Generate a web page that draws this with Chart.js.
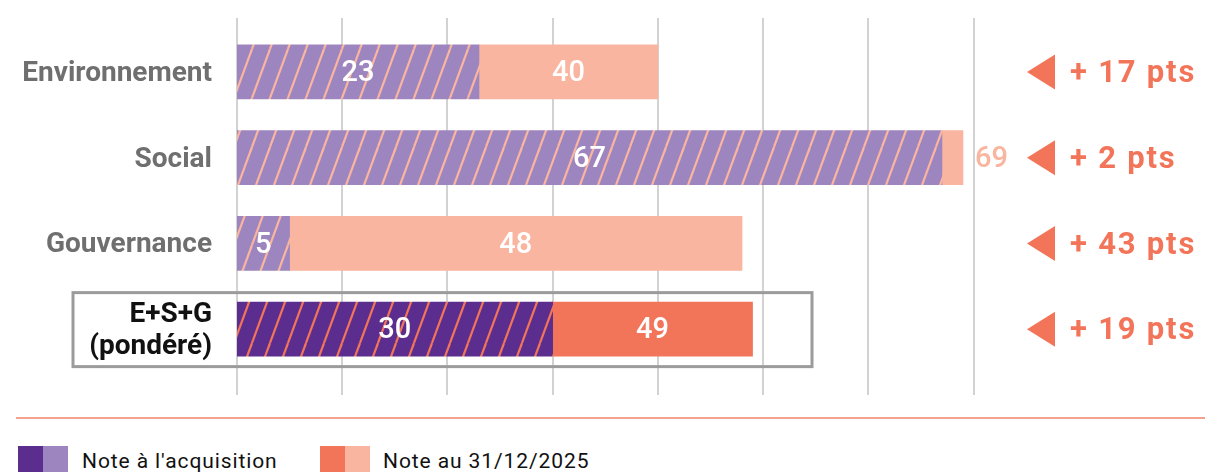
<!DOCTYPE html>
<html lang="fr">
<head>
<meta charset="utf-8">
<script src="https://cdn.jsdelivr.net/npm/chart.js@4/dist/chart.umd.min.js"></script>
<style>
    html, body { margin: 0; padding: 0; background: #fff; }
    #wrap { position: relative; width: 1205px; height: 472px; overflow: hidden; font-family: Roboto, "Liberation Sans", sans-serif; }
    #chartBox { position: absolute; left: 0; top: 0; width: 1205px; height: 410px; }
    .sep { position: absolute; left: 16px; top: 417px; width: 1189px; height: 2px; background: #f5a18f; }
    .sq { position: absolute; top: 446px; width: 25px; height: 30px; }
    .txt { position: absolute; top: 451px; font-size: 21px; line-height: 21px; letter-spacing: 0.9px; color: #111; white-space: nowrap; }
</style>
</head>
<body>
<div id="wrap">
    <div id="chartBox"><canvas id="esgChart"></canvas></div>
    <div class="sep"></div>
    <div class="sq" style="left:18px; background:#5b2d8e"></div>
    <div class="sq" style="left:43px; background:#9d85bf"></div>
    <div class="txt" style="left:82px">Note à l'acquisition</div>
    <div class="sq" style="left:320px; background:#f27459"></div>
    <div class="sq" style="left:345px; background:#f9b59f"></div>
    <div class="txt" style="left:383px">Note au 31/12/2025</div>
</div>
<script>
// ── Données ──
const categories = ['Environnement', 'Social', 'Gouvernance', ['E+S+G', '(pondéré)']];
const acquisitionScores = [23, 67, 5, 30];
const currentScores = [40, 69, 48, 49];
const xMax = 70;
const xStep = 10;

// ── Couleurs ──
const PURPLE = '#5b2d8e', PURPLE_LIGHT = '#9d85bf';
const SALMON = '#f27459', SALMON_LIGHT = '#f9b59f';

// hachures diagonales "/" sur les barres d'acquisition
function hatch(bg, line) {
    const w = 18, h = 49;
    const c = document.createElement('canvas');
    c.width = w; c.height = h;
    const g = c.getContext('2d');
    g.fillStyle = bg;
    g.fillRect(0, 0, w, h);
    g.strokeStyle = line;
    g.lineWidth = 2.2;
    for (const dx of [-w, 0, w]) {
        g.beginPath();
        g.moveTo(dx, h);
        g.lineTo(dx + w, 0);
        g.stroke();
    }
    return g.createPattern(c, 'repeat');
}

const hatchLight = hatch(PURPLE_LIGHT, SALMON_LIGHT);
const hatchDark = hatch(PURPLE, SALMON);
const isTotal = i => i === categories.length - 1;

// grille verticale prolongée au-dessus et au-dessous des barres
const gridPlugin = {
    id: 'gridLines',
    beforeDatasetsDraw(chart) {
        const { ctx } = chart;
        const xs = chart.scales.x, ys = chart.scales.y;
        ctx.save();
        ctx.strokeStyle = '#d2d2d2';
        ctx.lineWidth = 2;
        for (let v = 0; v <= xMax; v += xStep) {
            const x = Math.round(xs.getPixelForValue(v));
            ctx.beginPath();
            ctx.moveTo(x, 18);
            ctx.lineTo(x, 395);
            ctx.stroke();
        }
        // cadre autour de la note globale
        const yc = ys.getPixelForValue(categories.length - 1);
        ctx.strokeStyle = '#9b9b9b';
        ctx.lineWidth = 3;
        ctx.strokeRect(73, yc - 36.5, 739, 74);
        ctx.restore();
    }
};

// valeurs dans les barres + écarts à droite
const labelPlugin = {
    id: 'barLabels',
    afterDatasetsDraw(chart) {
        const { ctx } = chart;
        ctx.save();
        ctx.font = '500 29px Roboto, sans-serif';
        ctx.textBaseline = 'middle';
        chart.data.datasets.forEach((ds, di) => {
            chart.getDatasetMeta(di).data.forEach((bar, i) => {
                const v = di === 0 ? acquisitionScores[i] : currentScores[i];
                const txt = String(v);
                const w = Math.abs(bar.x - bar.base);
                if (w < ctx.measureText(txt).width + 6) {
                    ctx.fillStyle = SALMON_LIGHT;
                    ctx.textAlign = 'left';
                    ctx.fillText(txt, Math.max(bar.x, bar.base) + 12, bar.y + 2);
                } else {
                    ctx.fillStyle = '#fff';
                    ctx.textAlign = 'center';
                    ctx.fillText(txt, (bar.x + bar.base) / 2, bar.y + 2);
                }
            });
        });

        const ys = chart.scales.y;
        ctx.fillStyle = SALMON;
        ctx.font = 'bold 31px Roboto, sans-serif';
        ctx.letterSpacing = '1.8px';
        ctx.textAlign = 'left';
        categories.forEach((c, i) => {
            const yc = ys.getPixelForValue(i);
            ctx.beginPath();
            ctx.moveTo(1055, yc - 17.5);
            ctx.lineTo(1055, yc + 17.5);
            ctx.lineTo(1027, yc);
            ctx.closePath();
            ctx.fill();
            ctx.fillText('+ ' + (currentScores[i] - acquisitionScores[i]) + ' pts', 1070, yc + 2.5);
        });
        ctx.restore();
    }
};

new Chart(document.getElementById('esgChart'), {
    type: 'bar',
    data: {
        labels: categories,
        datasets: [{
            label: "Note à l'acquisition",
            data: acquisitionScores,
            backgroundColor: acquisitionScores.map((v, i) => isTotal(i) ? hatchDark : hatchLight),
            grouped: false,
            barThickness: 54,
            borderWidth: 0
        }, {
            label: 'Note au 31/12/2025',
            data: currentScores.map((v, i) => [acquisitionScores[i], v]),
            backgroundColor: currentScores.map((v, i) => isTotal(i) ? SALMON : SALMON_LIGHT),
            grouped: false,
            barThickness: 54,
            borderWidth: 0
        }]
    },
    options: {
        indexAxis: 'y',
        responsive: true,
        maintainAspectRatio: false,
        animation: false,
        layout: { padding: { top: 29, bottom: 38, left: 0, right: 231.5 } },
        plugins: {
            legend: { display: false },
            tooltip: { enabled: false }
        },
        scales: {
            x: {
                display: false,
                min: 0,
                max: xMax,
                ticks: { stepSize: xStep }
            },
            y: {
                grid: { display: false, drawTicks: false, tickLength: 0 },
                border: { display: false },
                afterFit: (scale) => {
                    scale.width = 237;
                    scale.paddingTop = 0;
                    scale.paddingBottom = 0;
                },
                ticks: {
                    padding: 25,
                    labelOffset: 2,
                    font: { family: 'Roboto', size: 28, weight: 'bold', lineHeight: 1.15 },
                    color: (ctx) => isTotal(ctx.index) ? '#111' : '#6f6f70'
                }
            }
        }
    },
    plugins: [gridPlugin, labelPlugin]
});
</script>
</body>
</html>
